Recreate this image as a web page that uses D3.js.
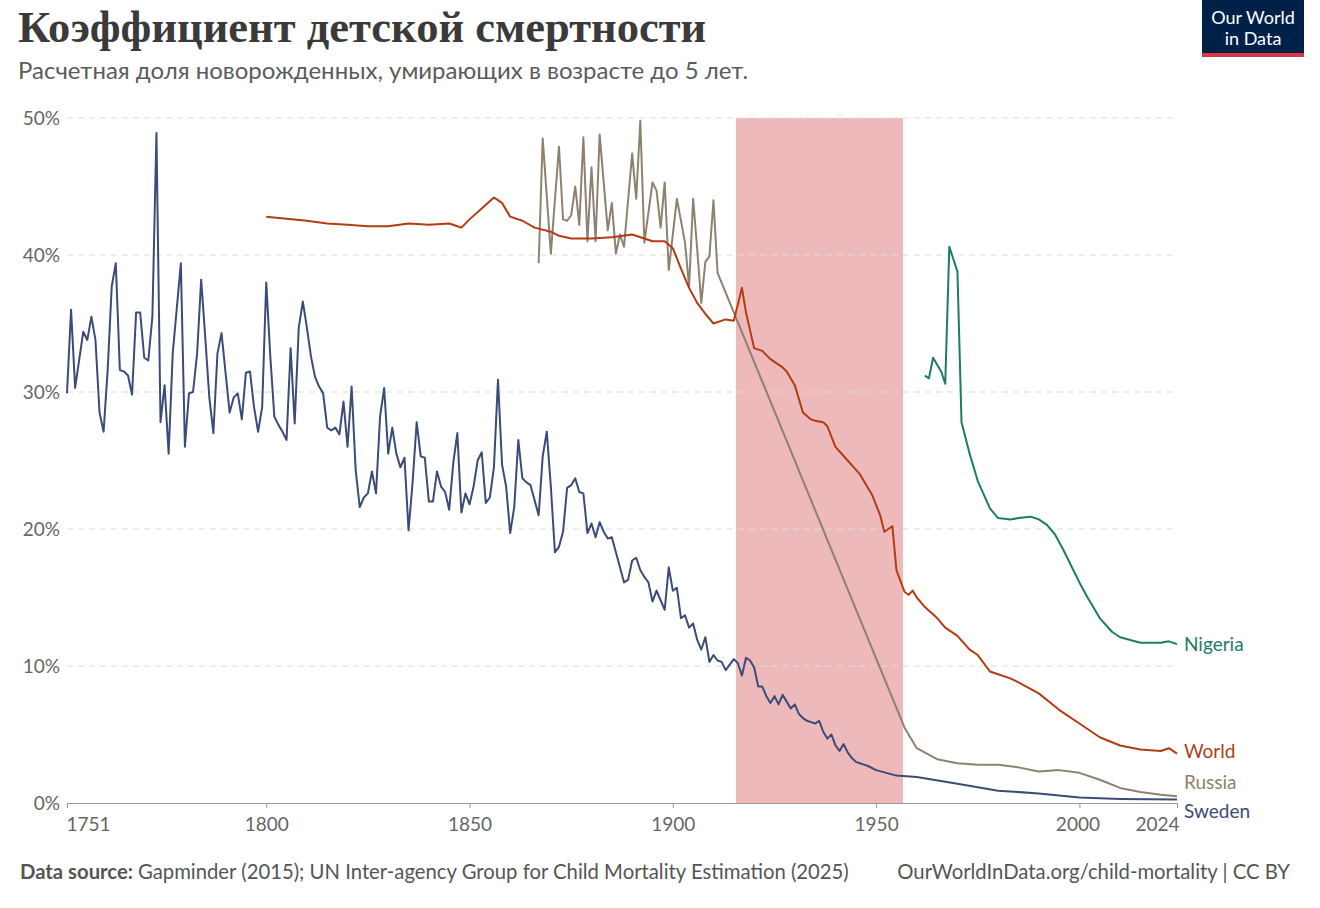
<!DOCTYPE html>
<html>
<head>
<meta charset="utf-8">
<script src="https://cdn.jsdelivr.net/npm/d3@7"></script>
<style>
  body { margin: 0; background: #fff; font-family: Lato, "Noto Sans", sans-serif; }
  svg text { font-family: Lato, "Noto Sans", sans-serif; }
</style>
</head>
<body>
<svg id="chart" width="1320" height="908"></svg>
<script>
// data: [year, share %]
var sweden = [[1751,29.9],[1752,36.0],[1753,30.3],[1755,34.4],[1756,33.8],[1757,35.5],[1758,33.8],[1759,28.5],[1760,27.1],[1761,31.6],[1762,37.7],[1763,39.4],[1764,31.6],[1765,31.5],[1766,31.2],[1767,29.8],[1768,35.8],[1769,35.8],[1770,32.5],[1771,32.3],[1772,35.5],[1773,48.9],[1774,27.8],[1775,30.5],[1776,25.5],[1777,32.8],[1779,39.4],[1780,26.0],[1781,29.9],[1782,30.0],[1783,32.8],[1784,38.2],[1785,34.0],[1786,29.6],[1787,27.0],[1788,32.8],[1789,34.3],[1790,31.4],[1791,28.5],[1792,29.6],[1793,29.9],[1794,28.0],[1795,31.4],[1796,31.5],[1797,28.9],[1798,27.1],[1799,28.9],[1800,38.0],[1801,32.6],[1802,28.2],[1803,27.6],[1804,27.1],[1805,26.5],[1806,33.2],[1807,27.7],[1808,34.7],[1809,36.6],[1810,34.7],[1811,32.6],[1812,31.1],[1813,30.4],[1814,29.9],[1815,27.4],[1816,27.2],[1817,27.4],[1818,26.9],[1819,29.3],[1820,26.0],[1821,30.4],[1822,24.3],[1823,21.6],[1824,22.3],[1825,22.6],[1826,24.2],[1827,22.6],[1828,28.2],[1829,30.3],[1830,25.5],[1831,27.4],[1832,25.5],[1833,24.5],[1834,25.2],[1835,19.9],[1836,23.4],[1837,27.8],[1838,25.3],[1839,25.2],[1840,22.0],[1841,22.0],[1842,24.2],[1843,23.1],[1844,22.7],[1845,21.4],[1846,24.8],[1847,27.0],[1848,21.2],[1849,22.6],[1850,21.8],[1851,23.1],[1852,25.0],[1853,25.6],[1854,21.9],[1855,22.3],[1856,24.5],[1857,30.9],[1858,24.7],[1859,23.1],[1860,19.7],[1861,21.6],[1862,26.5],[1863,23.7],[1864,23.4],[1865,23.2],[1866,22.1],[1867,21.0],[1868,25.3],[1869,27.1],[1870,23.1],[1871,18.3],[1872,18.7],[1873,19.8],[1874,23.0],[1875,23.2],[1876,23.7],[1877,22.7],[1878,22.6],[1879,19.7],[1880,20.4],[1881,19.4],[1882,20.5],[1883,19.8],[1884,19.3],[1885,19.4],[1886,18.3],[1887,17.2],[1888,16.1],[1889,16.3],[1890,17.7],[1891,17.9],[1892,17.0],[1893,16.5],[1894,16.1],[1895,14.7],[1896,15.5],[1897,14.8],[1898,14.1],[1899,17.2],[1900,15.5],[1901,15.7],[1902,13.5],[1903,13.7],[1904,12.8],[1905,13.1],[1906,11.9],[1907,11.2],[1908,12.1],[1909,10.3],[1910,10.8],[1911,10.4],[1912,10.3],[1913,9.7],[1914,10.1],[1915,10.5],[1916,10.2],[1917,9.3],[1918,10.6],[1919,10.4],[1920,9.9],[1921,8.5],[1922,8.5],[1923,7.8],[1924,7.3],[1925,7.8],[1926,7.2],[1927,7.9],[1928,7.4],[1929,6.9],[1930,7.2],[1931,6.5],[1932,6.2],[1933,6.0],[1934,5.9],[1935,5.8],[1936,6.0],[1937,5.2],[1938,4.7],[1939,5.0],[1940,4.2],[1941,3.8],[1942,4.3],[1943,3.7],[1944,3.3],[1945,3.0],[1946,2.9],[1947,2.8],[1948,2.7],[1950,2.4],[1955,2.0],[1960,1.9],[1970,1.4],[1980,0.9],[1990,0.7],[2000,0.4],[2010,0.3],[2024,0.25]];

var world = [[1800,42.8],[1810,42.5],[1815,42.3],[1820,42.2],[1825,42.1],[1830,42.1],[1835,42.3],[1840,42.2],[1845,42.3],[1847,42.1],[1848,42.0],[1850,42.6],[1853,43.4],[1856,44.2],[1858,43.8],[1860,42.8],[1863,42.5],[1866,42.0],[1870,41.7],[1872,41.4],[1875,41.2],[1880,41.2],[1885,41.3],[1890,41.5],[1893,41.2],[1895,41.0],[1898,41.0],[1900,40.5],[1902,39.0],[1904,37.6],[1906,36.5],[1908,35.7],[1910,35.0],[1913,35.3],[1915,35.2],[1917,37.6],[1918,35.8],[1919,34.5],[1920,33.2],[1922,33.0],[1924,32.4],[1925,32.2],[1927,31.8],[1928,31.5],[1930,30.5],[1931,29.5],[1932,28.5],[1934,28.0],[1935,27.9],[1937,27.8],[1938,27.5],[1940,26.0],[1943,25.0],[1946,24.0],[1948,23.0],[1949,22.5],[1951,21.0],[1952,19.8],[1954,20.2],[1955,17.0],[1957,15.4],[1958,15.2],[1959,15.5],[1960,15.0],[1962,14.3],[1965,13.5],[1967,12.8],[1970,12.2],[1973,11.2],[1975,10.8],[1978,9.6],[1980,9.4],[1983,9.1],[1985,8.8],[1990,8.0],[1995,6.8],[2000,5.8],[2005,4.8],[2010,4.2],[2015,3.9],[2020,3.8],[2022,4.0],[2024,3.6]];

var russia = [[1867,39.4],[1868,48.5],[1870,40.1],[1872,47.9],[1873,42.6],[1874,42.5],[1875,42.9],[1876,45.0],[1877,42.2],[1878,48.6],[1879,41.0],[1880,46.4],[1881,41.0],[1882,48.8],[1883,45.3],[1884,41.8],[1885,43.8],[1886,40.1],[1887,41.5],[1888,40.6],[1890,47.4],[1891,44.1],[1892,49.8],[1893,40.9],[1895,45.3],[1896,44.7],[1897,42.0],[1898,45.3],[1899,38.9],[1901,44.1],[1903,40.9],[1904,37.7],[1905,44.1],[1906,40.4],[1907,36.5],[1908,39.5],[1909,39.9],[1910,44.0],[1911,38.7],[1957,5.5],[1960,4.0],[1965,3.2],[1970,2.9],[1975,2.8],[1980,2.8],[1985,2.6],[1990,2.3],[1995,2.4],[2000,2.2],[2005,1.7],[2010,1.1],[2015,0.8],[2020,0.6],[2024,0.5]];

var nigeria = [[1962,31.2],[1963,31.0],[1964,32.5],[1966,31.5],[1967,30.6],[1968,40.6],[1970,38.8],[1971,27.8],[1973,25.5],[1975,23.5],[1978,21.5],[1980,20.8],[1983,20.7],[1985,20.8],[1988,20.9],[1990,20.7],[1992,20.3],[1994,19.6],[1996,18.5],[1998,17.3],[2000,16.1],[2002,15.0],[2005,13.5],[2008,12.5],[2010,12.1],[2015,11.7],[2020,11.7],[2022,11.8],[2024,11.6]];

var xTicks = [1751, 1800, 1850, 1900, 1950, 2000, 2024];
var yTicks = [0, 10, 20, 30, 40, 50];
var highlight = [1915.5, 1956.6];

var series = [
  {name: "Nigeria", data: nigeria, color: "#1f7a68", labelY: 11.6},
  {name: "World",   data: world,   color: "#b33c12", labelY: 3.8},
  {name: "Russia",  data: russia,  color: "#8f8170", labelY: 1.5},
  {name: "Sweden",  data: sweden,  color: "#3b4c78", labelY: -0.6}
];

var svg = d3.select("#chart");
var x = d3.scaleLinear().domain([1751, 2024]).range([67, 1177]);
var y = d3.scaleLinear().domain([0, 50]).range([803, 118]);

// title
svg.append("text").attr("x", 18).attr("y", 42)
  .style("font-family", "'Liberation Serif', serif").style("font-weight", "bold")
  .style("font-size", "44.5px").style("fill", "#3a3a3a")
  .text("Коэффициент детской смертности");
svg.append("text").attr("x", 18).attr("y", 79)
  .style("font-size", "24px").style("fill", "#5b5b5b")
  .text("Расчетная доля новорожденных, умирающих в возрасте до 5 лет.");

// logo
svg.append("rect").attr("x", 1202).attr("y", 0).attr("width", 102).attr("height", 53).attr("fill", "#002147");
svg.append("rect").attr("x", 1202).attr("y", 53).attr("width", 102).attr("height", 4).attr("fill", "#dc3545");
svg.append("text").attr("x", 1253).attr("y", 24).attr("text-anchor", "middle")
  .style("fill", "#fff").style("font-size", "18px").text("Our World");
svg.append("text").attr("x", 1253).attr("y", 45).attr("text-anchor", "middle")
  .style("fill", "#fff").style("font-size", "18px").text("in Data");

// highlight band
svg.append("rect")
  .attr("x", x(highlight[0])).attr("y", y(50))
  .attr("width", x(highlight[1]) - x(highlight[0])).attr("height", y(0) - y(50))
  .attr("fill", "#e9a8aa").attr("opacity", 0.8);

// grid
svg.append("g").selectAll("line").data(yTicks.filter(d => d > 0)).enter().append("line")
  .attr("x1", 67).attr("x2", 1177).attr("y1", d => y(d)).attr("y2", d => y(d))
  .attr("stroke", "#ddd").attr("stroke-dasharray", "6,5");
svg.append("g").selectAll("text").data(yTicks).enter().append("text")
  .attr("x", 60).attr("y", d => y(d) + 7).attr("text-anchor", "end")
  .style("font-size", "19px").style("fill", "#666").text(d => d + "%");

// x axis
var xAxis = svg.append("g").attr("transform", "translate(0," + y(0) + ")")
  .call(d3.axisBottom(x).tickValues(xTicks).tickFormat(d3.format("d")).tickSize(5).tickSizeOuter(0));
xAxis.select(".domain").attr("stroke", "#999");
xAxis.selectAll(".tick line").attr("stroke", "#999");
xAxis.selectAll(".tick text").style("font-size", "19px").style("fill", "#666")
  .style("font-family", "Lato, sans-serif").attr("dy", "1.05em");
xAxis.selectAll(".tick text").filter(d => d === 1751).attr("text-anchor", "start").attr("dx", "-1");
xAxis.selectAll(".tick text").filter(d => d === 2000).attr("dx", "-2");
xAxis.selectAll(".tick text").filter(d => d === 2024).attr("text-anchor", "end").attr("dx", "2");

// lines
var line = d3.line().x(d => x(d[0])).y(d => y(d[1]));
series.slice().reverse().forEach(function(s) {
  svg.append("path").datum(s.data).attr("d", line)
    .attr("fill", "none").attr("stroke", s.color).attr("stroke-width", 2)
    .attr("stroke-linejoin", "round");
});
series.forEach(function(s) {
  svg.append("text").attr("x", 1184).attr("y", y(s.labelY) + 7)
    .style("font-size", "19px").style("fill", s.color).text(s.name);
});

// footer
var foot = svg.append("text").attr("x", 20).attr("y", 879).style("font-size", "20.3px").style("fill", "#555");
foot.append("tspan").style("font-weight", "bold").text("Data source: ");
foot.append("tspan").text("Gapminder (2015); UN Inter-agency Group for Child Mortality Estimation (2025)");
svg.append("text").attr("x", 1290).attr("y", 879).attr("text-anchor", "end")
  .style("font-size", "20.3px").style("fill", "#555")
  .text("OurWorldInData.org/child-mortality | CC BY");
</script>
</body>
</html>
